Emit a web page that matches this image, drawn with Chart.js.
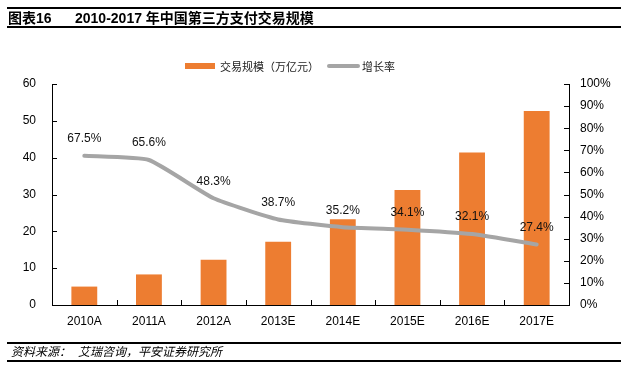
<!DOCTYPE html>
<html>
<head>
<meta charset="utf-8">
<script src="https://cdn.jsdelivr.net/npm/chart.js@4.4.1/dist/chart.umd.min.js"></script>
<style>
  html, body { margin: 0; padding: 0; background: #fff; }
  body { width: 621px; height: 367px; position: relative; overflow: hidden; }
  #c { position: absolute; left: 0; top: 0; }
  .rule { position: absolute; left: 7px; right: 0; height: 2px; background: #000; }
  .txt { position: absolute; white-space: nowrap; color: #000; }
  #title { left: 8px; top: 9px; font: bold 14px/18px "Liberation Sans", "Noto Sans CJK SC", sans-serif; }
  #title .t2 { position: absolute; left: 67px; top: 0; }
  #source { left: 11px; top: 344px; font: italic 12px/16px "Liberation Sans", "Noto Sans CJK SC", sans-serif; }
  #legend { left: 185px; top: 58px; font: 11px/16px "Noto Sans CJK SC", sans-serif; color: #222; }
  .lgbox { position: absolute; }
</style>
</head>
<body>
<canvas id="c" width="621" height="367"></canvas>
<div class="rule" style="top:7px"></div>
<div class="rule" style="top:26px"></div>
<div id="title" class="txt">图表16<span class="t2">2010-2017 年中国第三方支付交易规模</span></div>
<div class="rule" style="top:342px"></div>
<div class="rule" style="top:360px"></div>
<div id="source" class="txt">资料来源：<span style="margin-left:7px">艾瑞咨询，平安证券研究所</span></div>
<div id="legend" class="txt"></div>
<script>
// ---- data ----
const categories = ['2010A', '2011A', '2012A', '2013E', '2014E', '2015E', '2016E', '2017E'];
const tradeScale = [5.0, 8.3, 12.3, 17.2, 23.3, 31.2, 41.4, 52.7];
const growthRate = [67.5, 65.6, 48.3, 38.7, 35.2, 34.1, 32.1, 27.4];
const seriesNames = ['交易规模（万亿元）', '增长率'];
const leftAxis = { min: 0, max: 60, step: 10 };
const rightAxis = { min: 0, max: 100, step: 10 };

const BAR_COLOR = '#ED7D31';
const LINE_COLOR = '#A5A5A5';
const TICK_FONT = { family: '"Liberation Sans", Arial, sans-serif', size: 12 };

// legend (HTML)
const legend = document.getElementById('legend');
legend.innerHTML =
  '<span class="lgbox" style="left:0;top:5px;width:30px;height:6px;background:' + BAR_COLOR + '"></span>' +
  '<span style="position:absolute;left:35px;top:0">' + seriesNames[0] + '</span>' +
  '<span class="lgbox" style="left:142px;top:6px;width:33px;height:4px;border-radius:2px;background:' + LINE_COLOR + '"></span>' +
  '<span style="position:absolute;left:177px;top:0">' + seriesNames[1] + '</span>';

// inside tick marks + data labels
const customDraw = {
  id: 'customDraw',
  afterDraw(chart) {
    const ctx = chart.ctx;
    const { left, right, bottom } = chart.chartArea;
    const TL = 5;
    ctx.save();
    ctx.strokeStyle = '#000';
    ctx.lineWidth = 1;
    ctx.beginPath();
    const y = chart.scales.y;
    y.ticks.forEach(t => {
      const py = Math.round(y.getPixelForValue(t.value)) + 0.5;
      ctx.moveTo(left, py); ctx.lineTo(left + TL, py);
    });
    const y1 = chart.scales.y1;
    y1.ticks.forEach(t => {
      const py = Math.round(y1.getPixelForValue(t.value)) + 0.5;
      ctx.moveTo(right - TL, py); ctx.lineTo(right, py);
    });
    const x = chart.scales.x;
    for (let i = 0; i <= categories.length; i++) {
      const px = Math.round(x.getPixelForValue(i - 0.5)) + 0.5;
      ctx.moveTo(px, bottom); ctx.lineTo(px, bottom - TL);
    }
    ctx.stroke();

    // labels above line points
    const meta = chart.getDatasetMeta(1);
    ctx.fillStyle = '#111';
    ctx.font = '12px "Liberation Sans", Arial, sans-serif';
    ctx.textAlign = 'center';
    ctx.textBaseline = 'middle';
    meta.data.forEach((pt, i) => {
      ctx.fillText(growthRate[i].toFixed(1) + '%', pt.x, pt.y - 17);
    });
    ctx.restore();
  }
};

new Chart(document.getElementById('c'), {
  data: {
    labels: categories,
    datasets: [
      {
        type: 'bar',
        label: seriesNames[0],
        data: tradeScale,
        backgroundColor: BAR_COLOR,
        borderWidth: 0,
        categoryPercentage: 1.0,
        barPercentage: 0.4,
        yAxisID: 'y',
        order: 2
      },
      {
        type: 'line',
        label: seriesNames[1],
        data: growthRate,
        borderColor: LINE_COLOR,
        borderWidth: 4,
        pointRadius: 0,
        tension: 0.15,
        borderCapStyle: 'round',
        borderJoinStyle: 'round',
        yAxisID: 'y1',
        order: 1
      }
    ]
  },
  options: {
    responsive: false,
    animation: false,
    devicePixelRatio: 1,
    layout: { padding: { top: 84, left: 0, right: 0, bottom: 0 } },
    plugins: { legend: { display: false }, tooltip: { enabled: false } },
    scales: {
      x: {
        offset: true,
        grid: { display: false, drawTicks: false, offset: true },
        border: { display: true, color: '#000', width: 1 },
        ticks: { color: '#000', font: TICK_FONT, padding: 9, maxRotation: 0 },
        afterFit(s) { s.height = 62; }
      },
      y: {
        position: 'left',
        min: leftAxis.min, max: leftAxis.max,
        grid: { display: false, drawTicks: false },
        border: { display: true, color: '#000', width: 1 },
        ticks: { stepSize: leftAxis.step, color: '#000', font: TICK_FONT, padding: 16 },
        afterFit(s) { s.width = 52; }
      },
      y1: {
        position: 'right',
        min: rightAxis.min, max: rightAxis.max,
        grid: { display: false, drawTicks: false },
        border: { display: true, color: '#000', width: 1 },
        ticks: { stepSize: rightAxis.step, color: '#000', font: TICK_FONT, padding: 11,
                 callback: v => v + '%' },
        afterFit(s) { s.width = 52; }
      }
    }
  },
  plugins: [customDraw]
});
</script>
</body>
</html>
